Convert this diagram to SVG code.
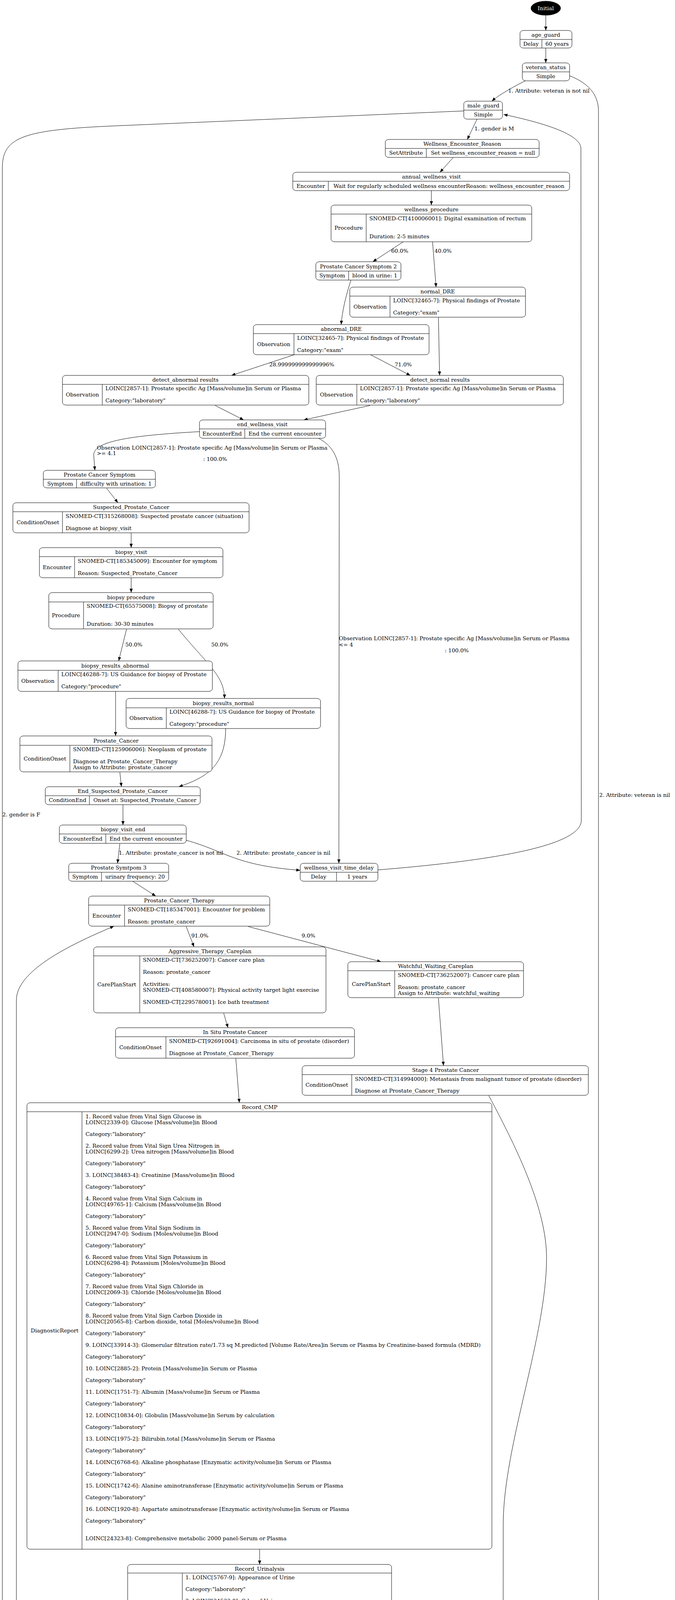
<svg xmlns="http://www.w3.org/2000/svg" width="1729" height="6685" viewBox="0 0 1729 6685">
<style>
.t{font-family:"DejaVu Serif","Liberation Serif",serif;font-size:13.8px;fill:#000}
.m{text-anchor:middle}
.w{fill:#fff}
.n{fill:#fff;stroke:#000;stroke-width:1}
.s{fill:none;stroke:#000;stroke-width:1}
.e{fill:none;stroke:#000;stroke-width:1;marker-end:url(#arr)}
</style>
<defs>
<marker id="arr" markerUnits="userSpaceOnUse" markerWidth="10" markerHeight="8" refX="10" refY="4" orient="auto"><path d="M0,0 L10,4 L0,8 z" fill="#000"/></marker>
</defs>
<rect x="0" y="0" width="1729" height="6685" fill="#fff"/>

<g id="connectors">
<path class="e" d="M1398,40 L1398,78"/>
<path class="e" d="M1398,123 L1398,161"/>
<path class="e" d="M1345,207 C1310,225 1275,245 1260,259"/>
<path class="e" d="M1459,194 C1505,212 1533,240 1533,285 L1533,6555 C1533,6615 1000,6648 623,6660"/>
<path class="e" d="M1222,305 L1197,357"/>
<path class="e" d="M1188,284 L300,322 C60,332 6,350 6,430 L6,6555 C6,6620 300,6645 513,6659"/>
<path class="e" d="M1161,403 L1127,441"/>
<path class="e" d="M1105,488 L1105,525"/>
<path class="e" d="M1033,619 L955,670"/>
<path class="e" d="M1108,619 L1117,735"/>
<path class="e" d="M899,717 C885,760 876,800 874,831"/>
<path class="e" d="M754,908 L593,961"/>
<path class="e" d="M949,908 L1051,961"/>
<path class="e" d="M1123,812 L1126,961"/>
<path class="e" d="M551,1038 L624,1075"/>
<path class="e" d="M948,1038 L778,1075"/>
<path class="e" d="M511,1105 C330,1115 240,1130 240,1165 L243,1204"/>
<path class="e" d="M816,1122 C850,1140 869,1170 869,1220 L868,2210"/>
<path class="e" d="M273,1250 L302,1287"/>
<path class="e" d="M336,1364 L336,1402"/>
<path class="e" d="M336,1479 L336,1517"/>
<path class="e" d="M324,1611 L304,1692"/>
<path class="e" d="M457,1611 C530,1700 575,1730 575,1788"/>
<path class="e" d="M296,1770 L296,1884"/>
<path class="e" d="M578,1865 C578,1960 530,1990 458,2014"/>
<path class="e" d="M307,1977 L311,2014"/>
<path class="e" d="M315,2060 L315,2112"/>
<path class="e" d="M307,2160 L301,2210"/>
<path class="e" d="M477,2151 C580,2180 600,2215 769,2228"/>
<path class="e" d="M968,2227 C1300,2200 1489,2160 1489,2100 L1488,380 C1488,340 1370,310 1290,293"/>
<path class="e" d="M340,2256 L399,2294"/>
<path class="e" d="M477,2372 L497,2424"/>
<path class="e" d="M636,2372 L976,2462"/>
<path class="e" d="M345,6557 C180,6505 42,6470 42,6410 L42,2560 C42,2480 200,2410 292,2371"/>
<path class="e" d="M573,2594 L584,2631"/>
<path class="e" d="M1123,2555 L1136,2728"/>
<path class="e" d="M604,2709 L613,2823"/>
<path class="e" d="M1252,2805 C1330,2950 1400,3100 1400,3220 C1400,3420 1290,3700 1289,3900 L1288,6340 C1288,6385 1100,6405 882,6418"/>
<path class="e" d="M665,3966 L665,4005"/>
<path class="e" d="M665,5102 L665,5140"/>
<path class="e" d="M665,5877 L665,5930"/>
<path class="e" d="M665,6007 L665,6045"/>
<path class="e" d="M634,6123 L595,6174"/>
<path class="e" d="M717,6123 C760,6200 770,6260 737,6320"/>
<path class="e" d="M629,6283 L681,6320"/>
<path class="e" d="M717,6367 L717,6405"/>
<path class="e" d="M554,6444 C470,6460 440,6500 439,6546"/>
<path class="e" d="M717,6450 L717,6547"/>
<path class="e" d="M469,6594 L543,6647"/>
<path class="e" d="M679,6594 L592,6647"/>
<g id="edge-labels">
<text class="t m" x="1406" y="237">1. Attribute: veteran is not nil</text>
<text class="t" x="1535" y="2040">2. Attribute: veteran is nil</text>
<text class="t m" x="1266" y="334">1. gender is M</text>
<text class="t" x="6" y="2090">2. gender is F</text>
<text class="t m" x="1024" y="647">60.0%</text>
<text class="t m" x="1135" y="647">40.0%</text>
<text class="t m" x="773" y="938">28.999999999999996%</text>
<text class="t m" x="1033" y="938">71.0%</text>
<text class="t" x="248" y="1151">Observation LOINC[2857-1]: Prostate specific Ag [Mass/volume]in Serum or Plasma</text>
<text class="t" x="248" y="1165">&gt;= 4.1</text>
<text class="t m" x="551" y="1180">: 100.0%</text>
<text class="t" x="868" y="1639">Observation LOINC[2857-1]: Prostate specific Ag [Mass/volume]in Serum or Plasma</text>
<text class="t" x="868" y="1655">&lt;= 4</text>
<text class="t m" x="1170" y="1670">: 100.0%</text>
<text class="t m" x="343" y="1655">50.0%</text>
<text class="t m" x="563" y="1655">50.0%</text>
<text class="t m" x="438" y="2188">1. Attribute: prostate_cancer is not nil</text>
<text class="t m" x="726" y="2188">2. Attribute: prostate_cancer is nil</text>
<text class="t m" x="512" y="2400">91.0%</text>
<text class="t m" x="790" y="2400">9.0%</text>
<text class="t" x="43" y="5908">1. state'Prostatectomy'has been processed within 120 days</text>
<text class="t m" x="641" y="6152">2. else</text>
<text class="t m" x="918" y="6232">1. state'Prostatectomy'has been processed</text>
<text class="t m" x="589" y="6495">Attribute: watchful_waiting is nil</text>
<text class="t m" x="594" y="6510">: 95.0%</text>
<text class="t m" x="834" y="6480">Attribute: watchful_waiting is nil</text>
<text class="t m" x="853" y="6495">: 5.0%,</text>
<text class="t m" x="847" y="6509">Attribute: watchful_waiting is not nil</text>
<text class="t m" x="852" y="6525">: 100.0%</text>
<text class="t m" x="536" y="6623">2. else</text>
</g>
</g>

<g id="initial"><ellipse cx="1398" cy="21" rx="38" ry="18" fill="#000" stroke="#000"/><text class="t m w" x="1398" y="26">Initial</text></g>

<g id="age_guard"><rect class="n" x="1332" y="78" width="133" height="45" rx="9" ry="7"/><path class="s" d="M1332,101H1465M1388,101V123"/>
<text class="t m" x="1398" y="94">age_guard</text>
<text class="t m" x="1360" y="116.5">Delay</text>
<text class="t m" x="1427" y="116.5">60 years</text></g>

<g id="veteran_status"><rect class="n" x="1338" y="161" width="121" height="46" rx="9" ry="7"/><path class="s" d="M1338,184H1459"/>
<text class="t m" x="1398" y="177">veteran_status</text>
<text class="t m" x="1398" y="200">Simple</text></g>

<g id="male_guard"><rect class="n" x="1188" y="259" width="99" height="46" rx="9" ry="7"/><path class="s" d="M1188,282H1287"/>
<text class="t m" x="1238" y="275">male_guard</text>
<text class="t m" x="1238" y="298">Simple</text></g>

<g id="wellness_encounter_reason"><rect class="n" x="987" y="357" width="394" height="46" rx="9" ry="7"/><path class="s" d="M987,380H1381M1092,380V403"/>
<text class="t m" x="1184" y="373">Wellness_Encounter_Reason</text>
<text class="t m" x="1040" y="396">SetAttribute</text>
<text class="t m" x="1237" y="396">Set wellness_encounter_reason = null</text></g>

<g id="annual_wellness_visit"><rect class="n" x="750" y="441" width="709" height="47" rx="9" ry="7"/><path class="s" d="M750,464H1459M841,464V488"/>
<text class="t m" x="1105" y="457">annual_wellness_visit</text>
<text class="t m" x="796" y="480.5">Encounter</text>
<text class="t m" x="1150" y="480.5">Wait for regularly scheduled wellness encounterReason: wellness_encounter_reason</text></g>

<g id="wellness_procedure"><rect class="n" x="848" y="525" width="514" height="94" rx="9" ry="7"/><path class="s" d="M848,548H1362M938,548V619"/>
<text class="t m" x="1105" y="541">wellness_procedure</text>
<text class="t m" x="893" y="588">Procedure</text>
<text class="t" x="946" y="563.5">SNOMED-CT[410006001]: Digital examination of rectum</text>
<text class="t" x="946" y="609.5">Duration: 2-5 minutes</text></g>

<g id="prostate_cancer_symptom_2"><rect class="n" x="809" y="670" width="218" height="47" rx="9" ry="7"/><path class="s" d="M809,694H1027M893,694V717"/>
<text class="t m" x="918" y="686.5">Prostate Cancer Symptom 2</text>
<text class="t m" x="851" y="710">Symptom</text>
<text class="t m" x="960" y="710">blood in urine: 1</text></g>

<g id="normal_DRE"><rect class="n" x="896" y="735" width="450" height="77" rx="9" ry="7"/><path class="s" d="M896,758H1346M999,758V812"/>
<text class="t m" x="1121" y="751">normal_DRE</text>
<text class="t m" x="948" y="789.5">Observation</text>
<text class="t" x="1007" y="773.5">LOINC[32465-7]: Physical findings of Prostate</text>
<text class="t" x="1007" y="804.5">Category:"exam"</text></g>

<g id="abnormal_DRE"><rect class="n" x="649" y="831" width="450" height="77" rx="9" ry="7"/><path class="s" d="M649,854H1099M753,854V908"/>
<text class="t m" x="874" y="847">abnormal_DRE</text>
<text class="t m" x="701" y="885.5">Observation</text>
<text class="t" x="761" y="869.5">LOINC[32465-7]: Physical findings of Prostate</text>
<text class="t" x="761" y="900.5">Category:"exam"</text></g>

<g id="detect_abnormal_results"><rect class="n" x="160" y="961" width="631" height="76" rx="9" ry="7"/><path class="s" d="M160,984H791M262,984V1037"/>
<text class="t m" x="475" y="977">detect_abnormal results</text>
<text class="t m" x="211" y="1015">Observation</text>
<text class="t" x="270" y="998.5">LOINC[2857-1]: Prostate specific Ag [Mass/volume]in Serum or Plasma</text>
<text class="t" x="270" y="1029.5">Category:"laboratory"</text></g>

<g id="detect_normal_results"><rect class="n" x="810" y="961" width="633" height="76" rx="9" ry="7"/><path class="s" d="M810,984H1443M914,984V1037"/>
<text class="t m" x="1127" y="977">detect_normal results</text>
<text class="t m" x="862" y="1015">Observation</text>
<text class="t" x="922" y="998.5">LOINC[2857-1]: Prostate specific Ag [Mass/volume]in Serum or Plasma</text>
<text class="t" x="922" y="1029.5">Category:"laboratory"</text></g>

<g id="end_wellness_visit"><rect class="n" x="511" y="1075" width="323" height="47" rx="9" ry="7"/><path class="s" d="M511,1098H834M627,1098V1122"/>
<text class="t m" x="672" y="1091">end_wellness_visit</text>
<text class="t m" x="569" y="1114.5">EncounterEnd</text>
<text class="t m" x="730" y="1114.5">End the current encounter</text></g>

<g id="prostate_cancer_symptom"><rect class="n" x="111" y="1204" width="287" height="45" rx="9" ry="7"/><path class="s" d="M111,1227H398M196,1227V1249"/>
<text class="t m" x="255" y="1220">Prostate Cancer Symptom</text>
<text class="t m" x="154" y="1242.5">Symptom</text>
<text class="t m" x="297" y="1242.5">difficulty with urination: 1</text></g>

<g id="suspected_prostate_cancer"><rect class="n" x="33" y="1287" width="605" height="77" rx="9" ry="7"/><path class="s" d="M33,1310H638M160,1310V1364"/>
<text class="t m" x="336" y="1303">Suspected_Prostate_Cancer</text>
<text class="t m" x="97" y="1341.5">ConditionOnset</text>
<text class="t" x="168" y="1325.5">SNOMED-CT[315268008]: Suspected prostate cancer (situation)</text>
<text class="t" x="168" y="1356.5">Diagnose at biopsy_visit</text></g>

<g id="biopsy_visit"><rect class="n" x="101" y="1402" width="470" height="77" rx="9" ry="7"/><path class="s" d="M101,1425H571M191,1425V1479"/>
<text class="t m" x="336" y="1418">biopsy_visit</text>
<text class="t m" x="146" y="1456.5">Encounter</text>
<text class="t" x="199" y="1440.5">SNOMED-CT[185345009]: Encounter for symptom</text>
<text class="t" x="199" y="1471.5">Reason: Suspected_Prostate_Cancer</text></g>

<g id="biopsy_procedure"><rect class="n" x="125" y="1517" width="421" height="93" rx="9" ry="7"/><path class="s" d="M125,1541H546M214,1541V1610"/>
<text class="t m" x="335" y="1533.5">biopsy procedure</text>
<text class="t m" x="169" y="1580">Procedure</text>
<text class="t" x="222" y="1555.5">SNOMED-CT[65575008]: Biopsy of prostate</text>
<text class="t" x="222" y="1601.5">Duration: 30-30 minutes</text></g>

<g id="biopsy_results_abnormal"><rect class="n" x="46" y="1692" width="498" height="78" rx="9" ry="7"/><path class="s" d="M46,1716H544M149,1716V1770"/>
<text class="t m" x="295" y="1708.5">biopsy_results_abnormal</text>
<text class="t m" x="97" y="1747.5">Observation</text>
<text class="t" x="157" y="1730.5">LOINC[46288-7]: US Guidance for biopsy of Prostate</text>
<text class="t" x="157" y="1761.5">Category:"procedure"</text></g>

<g id="biopsy_results_normal"><rect class="n" x="323" y="1788" width="498" height="77" rx="9" ry="7"/><path class="s" d="M323,1812H821M426,1812V1865"/>
<text class="t m" x="572" y="1804.5">biopsy_results_normal</text>
<text class="t m" x="374" y="1843">Observation</text>
<text class="t" x="434" y="1826.5">LOINC[46288-7]: US Guidance for biopsy of Prostate</text>
<text class="t" x="434" y="1857.5">Category:"procedure"</text></g>

<g id="prostate_cancer"><rect class="n" x="51" y="1884" width="492" height="92" rx="9" ry="7"/><path class="s" d="M51,1908H543M179,1908V1976"/>
<text class="t m" x="297" y="1900.5">Prostate_Cancer</text>
<text class="t m" x="115" y="1946.5">ConditionOnset</text>
<text class="t" x="187" y="1922.5">SNOMED-CT[125906006]: Neoplasm of prostate</text>
<text class="t" x="187" y="1953.5">Diagnose at Prostate_Cancer_Therapy</text>
<text class="t" x="187" y="1968.5">Assign to Attribute: prostate_cancer</text></g>

<g id="end_suspected_prostate_cancer"><rect class="n" x="116" y="2014" width="397" height="46" rx="9" ry="7"/><path class="s" d="M116,2037H513M229,2037V2060"/>
<text class="t m" x="314" y="2030">End_Suspected_Prostate_Cancer</text>
<text class="t m" x="173" y="2053">ConditionEnd</text>
<text class="t m" x="371" y="2053">Onset at: Suspected_Prostate_Cancer</text></g>

<g id="biopsy_visit_end"><rect class="n" x="152" y="2112" width="325" height="47" rx="9" ry="7"/><path class="s" d="M152,2135H477M271,2135V2159"/>
<text class="t m" x="315" y="2128">biopsy_visit_end</text>
<text class="t m" x="212" y="2151.5">EncounterEnd</text>
<text class="t m" x="374" y="2151.5">End the current encounter</text></g>

<g id="prostate_symptom_3"><rect class="n" x="176" y="2210" width="256" height="46" rx="9" ry="7"/><path class="s" d="M176,2233H432M260,2233V2256"/>
<text class="t m" x="304" y="2226">Prostate Symtpom 3</text>
<text class="t m" x="218" y="2249">Symptom</text>
<text class="t m" x="346" y="2249">urinary frequency: 20</text></g>

<g id="wellness_visit_time_delay"><rect class="n" x="769" y="2210" width="199" height="46" rx="9" ry="7"/><path class="s" d="M769,2233H968M862,2233V2256"/>
<text class="t m" x="868" y="2226">wellness_visit_time_delay</text>
<text class="t m" x="816" y="2249">Delay</text>
<text class="t m" x="915" y="2249">1 years</text></g>

<g id="prostate_cancer_therapy"><rect class="n" x="227" y="2294" width="464" height="77" rx="9" ry="7"/><path class="s" d="M227,2317H691M319,2317V2371"/>
<text class="t m" x="459" y="2310">Prostate_Cancer_Therapy</text>
<text class="t m" x="273" y="2348.5">Encounter</text>
<text class="t" x="327" y="2332.5">SNOMED-CT[185347001]: Encounter for problem</text>
<text class="t" x="327" y="2363.5">Reason: prostate_cancer</text></g>

<g id="aggressive_therapy_careplan"><rect class="n" x="240" y="2424" width="595" height="169" rx="9" ry="7"/><path class="s" d="M240,2447H835M358,2447V2593"/>
<text class="t m" x="538" y="2440">Aggressive_Therapy_Careplan</text>
<text class="t m" x="299" y="2524.5">CarePlanStart</text>
<text class="t" x="366" y="2461.5">SNOMED-CT[736252007]: Cancer care plan</text>
<text class="t" x="366" y="2492.5">Reason: prostate_cancer</text>
<text class="t" x="366" y="2523.5">Activities:</text>
<text class="t" x="366" y="2538.5">SNOMED-CT[408580007]: Physical activity target light exercise</text>
<text class="t" x="366" y="2569.5">SNOMED-CT[229578001]: Ice bath treatment</text></g>

<g id="watchful_waiting_careplan"><rect class="n" x="891" y="2462" width="450" height="92" rx="9" ry="7"/><path class="s" d="M891,2485H1341M1011,2485V2554"/>
<text class="t m" x="1116" y="2478">Watchful_Waiting_Careplan</text>
<text class="t m" x="951" y="2524">CarePlanStart</text>
<text class="t" x="1019" y="2500.5">SNOMED-CT[736252007]: Cancer care plan</text>
<text class="t" x="1019" y="2531.5">Reason: prostate_cancer</text>
<text class="t" x="1019" y="2546.5">Assign to Attribute: watchful_waiting</text></g>

<g id="in_situ_prostate_cancer"><rect class="n" x="296" y="2631" width="612" height="78" rx="9" ry="7"/><path class="s" d="M296,2654H908M425,2654V2709"/>
<text class="t m" x="602" y="2647">In Situ Prostate Cancer</text>
<text class="t m" x="360" y="2686">ConditionOnset</text>
<text class="t" x="433" y="2669.5">SNOMED-CT[92691004]: Carcinoma in situ of prostate (disorder)</text>
<text class="t" x="433" y="2700.5">Diagnose at Prostate_Cancer_Therapy</text></g>

<g id="stage_4_prostate_cancer"><rect class="n" x="774" y="2728" width="733" height="76" rx="9" ry="7"/><path class="s" d="M774,2751H1507M901,2751V2804"/>
<text class="t m" x="1141" y="2744">Stage 4 Prostate Cancer</text>
<text class="t m" x="837" y="2782">ConditionOnset</text>
<text class="t" x="909" y="2766.5">SNOMED-CT[314994000]: Metastasis from malignant tumor of prostate (disorder)</text>
<text class="t" x="909" y="2796.5">Diagnose at Prostate_Cancer_Therapy</text></g>

<g id="record_cmp"><rect class="n" x="69" y="2823" width="1191" height="1143" rx="9" ry="7"/><path class="s" d="M69,2846H1260M210,2846V3966"/>
<text class="t m" x="665" y="2839">Record_CMP</text>
<text class="t m" x="140" y="3410.5">DiagnosticReport</text>
<text class="t">
<tspan x="219" y="2862.5">1. Record value from Vital Sign Glucose in</tspan>
<tspan x="219" y="2877.5">LOINC[2339-0]: Glucose [Mass/volume]in Blood</tspan>
<tspan x="219" y="2907.5">Category:"laboratory"</tspan>
<tspan x="219" y="2937.5">2. Record value from Vital Sign Urea Nitrogen in</tspan>
<tspan x="219" y="2952.5">LOINC[6299-2]: Urea nitrogen [Mass/volume]in Blood</tspan>
<tspan x="219" y="2982.5">Category:"laboratory"</tspan>
<tspan x="219" y="3012.5">3. LOINC[38483-4]: Creatinine [Mass/volume]in Blood</tspan>
<tspan x="219" y="3042.5">Category:"laboratory"</tspan>
<tspan x="219" y="3072.5">4. Record value from Vital Sign Calcium in</tspan>
<tspan x="219" y="3087.5">LOINC[49765-1]: Calcium [Mass/volume]in Blood</tspan>
<tspan x="219" y="3117.5">Category:"laboratory"</tspan>
<tspan x="219" y="3147.5">5. Record value from Vital Sign Sodium in</tspan>
<tspan x="219" y="3162.5">LOINC[2947-0]: Sodium [Moles/volume]in Blood</tspan>
<tspan x="219" y="3192.5">Category:"laboratory"</tspan>
<tspan x="219" y="3222.5">6. Record value from Vital Sign Potassium in</tspan>
<tspan x="219" y="3237.5">LOINC[6298-4]: Potassium [Moles/volume]in Blood</tspan>
<tspan x="219" y="3267.5">Category:"laboratory"</tspan>
<tspan x="219" y="3297.5">7. Record value from Vital Sign Chloride in</tspan>
<tspan x="219" y="3312.5">LOINC[2069-3]: Chloride [Moles/volume]in Blood</tspan>
<tspan x="219" y="3342.5">Category:"laboratory"</tspan>
<tspan x="219" y="3372.5">8. Record value from Vital Sign Carbon Dioxide in</tspan>
<tspan x="219" y="3387.5">LOINC[20565-8]: Carbon dioxide, total [Moles/volume]in Blood</tspan>
<tspan x="219" y="3417.5">Category:"laboratory"</tspan>
<tspan x="219" y="3447.5">9. LOINC[33914-3]: Glomerular filtration rate/1.73 sq M.predicted [Volume Rate/Area]in Serum or Plasma by Creatinine-based formula (MDRD)</tspan>
<tspan x="219" y="3477.5">Category:"laboratory"</tspan>
<tspan x="219" y="3507.5">10. LOINC[2885-2]: Protein [Mass/volume]in Serum or Plasma</tspan>
<tspan x="219" y="3537.5">Category:"laboratory"</tspan>
<tspan x="219" y="3567.5">11. LOINC[1751-7]: Albumin [Mass/volume]in Serum or Plasma</tspan>
<tspan x="219" y="3597.5">Category:"laboratory"</tspan>
<tspan x="219" y="3627.5">12. LOINC[10834-0]: Globulin [Mass/volume]in Serum by calculation</tspan>
<tspan x="219" y="3657.5">Category:"laboratory"</tspan>
<tspan x="219" y="3687.5">13. LOINC[1975-2]: Bilirubin.total [Mass/volume]in Serum or Plasma</tspan>
<tspan x="219" y="3717.5">Category:"laboratory"</tspan>
<tspan x="219" y="3747.5">14. LOINC[6768-6]: Alkaline phosphatase [Enzymatic activity/volume]in Serum or Plasma</tspan>
<tspan x="219" y="3777.5">Category:"laboratory"</tspan>
<tspan x="219" y="3807.5">15. LOINC[1742-6]: Alanine aminotransferase [Enzymatic activity/volume]in Serum or Plasma</tspan>
<tspan x="219" y="3837.5">Category:"laboratory"</tspan>
<tspan x="219" y="3867.5">16. LOINC[1920-8]: Aspartate aminotransferase [Enzymatic activity/volume]in Serum or Plasma</tspan>
<tspan x="219" y="3897.5">Category:"laboratory"</tspan>
<tspan x="219" y="3942.5">LOINC[24323-8]: Comprehensive metabolic 2000 panel-Serum or Plasma</tspan>
</text></g>

<g id="record_urinalysis"><rect class="n" x="327" y="4005" width="676" height="1097" rx="9" ry="7"/><path class="s" d="M327,4027H1003M467,4027V5102"/>
<text class="t m" x="665" y="4020.5">Record_Urinalysis</text>
<text class="t m" x="397" y="4569">DiagnosticReport</text>
<text class="t">
<tspan x="475" y="4042.5">1. LOINC[5767-9]: Appearance of Urine</tspan>
<tspan x="475" y="4072.5">Category:"laboratory"</tspan>
<tspan x="475" y="4102.5">2. LOINC[34533-0]: Odor of Urine</tspan>
<tspan x="475" y="4132.5">Category:"laboratory"</tspan>
<tspan x="475" y="4162.5">3. LOINC[32167-9]: Clarity of Urine</tspan>
<tspan x="475" y="4192.5">Category:"laboratory"</tspan>
<tspan x="475" y="4222.5">4. LOINC[5778-6]: Color of Urine</tspan>
<tspan x="475" y="4252.5">Category:"laboratory"</tspan>
<tspan x="475" y="4282.5">5. LOINC[5792-7]: Glucose [Mass/volume]in Urine by Test strip</tspan>
<tspan x="475" y="4312.5">Category:"laboratory"</tspan>
<tspan x="475" y="4342.5">6. LOINC[25428-4]: Glucose [Presence]in Urine by Test strip</tspan>
<tspan x="475" y="4372.5">Category:"laboratory"</tspan>
<tspan x="475" y="4402.5">7. LOINC[20505-4]: Bilirubin.total [Mass/volume]in Urine by Test strip</tspan>
<tspan x="475" y="4432.5">Category:"laboratory"</tspan>
<tspan x="475" y="4462.5">8. LOINC[5770-3]: Bilirubin.total [Presence]in Urine by Test strip</tspan>
<tspan x="475" y="4492.5">Category:"laboratory"</tspan>
<tspan x="475" y="4522.5">9. LOINC[5797-6]: Ketones [Mass/volume]in Urine by Test strip</tspan>
<tspan x="475" y="4552.5">Category:"laboratory"</tspan>
<tspan x="475" y="4582.5">10. LOINC[2514-8]: Ketones [Presence]in Urine by Test strip</tspan>
<tspan x="475" y="4612.5">Category:"laboratory"</tspan>
<tspan x="475" y="4642.5">11. LOINC[5811-5]: Specific gravity of Urine by Test strip</tspan>
<tspan x="475" y="4672.5">Category:"laboratory"</tspan>
<tspan x="475" y="4702.5">12. LOINC[5803-2]: pH of Urine by Test strip</tspan>
<tspan x="475" y="4732.5">Category:"laboratory"</tspan>
<tspan x="475" y="4762.5">13. LOINC[5804-0]: Protein [Mass/volume]in Urine by Test strip</tspan>
<tspan x="475" y="4792.5">Category:"laboratory"</tspan>
<tspan x="475" y="4822.5">14. LOINC[20454-5]: Protein [Presence]in Urine by Test strip</tspan>
<tspan x="475" y="4852.5">Category:"laboratory"</tspan>
<tspan x="475" y="4882.5">15. LOINC[5802-4]: Nitrite [Presence]in Urine by Test strip</tspan>
<tspan x="475" y="4912.5">Category:"laboratory"</tspan>
<tspan x="475" y="4942.5">16. LOINC[5794-3]: Hemoglobin [Presence]in Urine by Test strip</tspan>
<tspan x="475" y="4972.5">Category:"laboratory"</tspan>
<tspan x="475" y="5002.5">17. LOINC[5799-2]: Leukocyte esterase [Presence]in Urine by Test strip</tspan>
<tspan x="475" y="5032.5">Category:"laboratory"</tspan>
<tspan x="475" y="5077.5">LOINC[24357-6]: Urinalysis macro (dipstick) panel-Urine</tspan>
</text></g>

<g id="record_cbc_panel"><rect class="n" x="251" y="5140" width="827" height="737" rx="9" ry="7"/><path class="s" d="M251,5163H1078M390,5163V5877"/>
<text class="t m" x="665" y="5156">Record_CBC_Panel</text>
<text class="t m" x="321" y="5524.5">DiagnosticReport</text>
<text class="t">
<tspan x="399" y="5177.5">1. LOINC[6690-2]: Leukocytes [#/volume]in Blood by Automated count</tspan>
<tspan x="399" y="5207.5">Category:"laboratory"</tspan>
<tspan x="399" y="5237.5">2. LOINC[789-8]: Erythrocytes [#/volume]in Blood by Automated count</tspan>
<tspan x="399" y="5267.5">Category:"laboratory"</tspan>
<tspan x="399" y="5297.5">3. LOINC[718-7]: Hemoglobin [Mass/volume]in Blood</tspan>
<tspan x="399" y="5327.5">Category:"laboratory"</tspan>
<tspan x="399" y="5357.5">4. LOINC[4544-3]: Hematocrit [Volume Fraction]of Blood by Automated count</tspan>
<tspan x="399" y="5387.5">Category:"laboratory"</tspan>
<tspan x="399" y="5417.5">5. LOINC[787-2]: MCV [Entitic volume]by Automated count</tspan>
<tspan x="399" y="5447.5">Category:"laboratory"</tspan>
<tspan x="399" y="5477.5">6. LOINC[785-6]: MCH [Entitic mass]by Automated count</tspan>
<tspan x="399" y="5507.5">Category:"laboratory"</tspan>
<tspan x="399" y="5537.5">7. LOINC[786-4]: MCHC [Mass/volume]by Automated count</tspan>
<tspan x="399" y="5567.5">Category:"laboratory"</tspan>
<tspan x="399" y="5597.5">8. LOINC[21000-5]: Erythrocyte distribution width [Entitic volume]by Automated count</tspan>
<tspan x="399" y="5627.5">Category:"laboratory"</tspan>
<tspan x="399" y="5657.5">9. LOINC[777-3]: Platelets [#/volume]in Blood by Automated count</tspan>
<tspan x="399" y="5687.5">Category:"laboratory"</tspan>
<tspan x="399" y="5717.5">10. LOINC[32207-3]: Platelet distribution width [Entitic volume]in Blood by Automated count</tspan>
<tspan x="399" y="5747.5">Category:"laboratory"</tspan>
<tspan x="399" y="5777.5">11. LOINC[32623-1]: Platelet mean volume [Entitic volume]in Blood by Automated count</tspan>
<tspan x="399" y="5807.5">Category:"laboratory"</tspan>
<tspan x="399" y="5852.5">LOINC[58410-2]: CBC panel-Blood by Automated count</tspan>
</text></g>

<g id="chemotherapy_hormone_order"><rect class="n" x="384" y="5930" width="562" height="77" rx="9" ry="7"/><path class="s" d="M384,5953H946M522,5953V6007"/>
<text class="t m" x="665" y="5946">Chemotherapy_Hormone Order</text>
<text class="t m" x="453" y="5984.5">MedicationOrder</text>
<text class="t" x="530" y="5968.5">RxNorm[1860480]: 1 ML DOCEtaxel 20 MG/ML Injection</text>
<text class="t" x="530" y="5999.5">Reason: Prostate_Cancer</text></g>

<g id="chemotherapy_hormone_order2"><rect class="n" x="320" y="6045" width="690" height="77" rx="9" ry="7"/><path class="s" d="M320,6068H1010M457,6068V6122"/>
<text class="t m" x="665" y="6061">Chemotherapy_Hormone Order2</text>
<text class="t m" x="388" y="6099.5">MedicationOrder</text>
<text class="t" x="465" y="6083.5">RxNorm[752899]: 0.25 ML Leuprolide Acetate 30 MG/ML Prefilled Syringe</text>
<text class="t" x="465" y="6114.5">Reason: Prostate_Cancer</text></g>

<g id="prostatectomy"><rect class="n" x="351" y="6174" width="394" height="108" rx="9" ry="7"/><path class="s" d="M351,6197H745M440,6197V6282"/>
<text class="t m" x="548" y="6190">Prostatectomy</text>
<text class="t m" x="395" y="6244">Procedure</text>
<text class="t" x="448" y="6213.5">SNOMED-CT[90470006]: Prostatectomy</text>
<text class="t" x="448" y="6243.5">Reason: prostate_cancer</text>
<text class="t" x="448" y="6274.5">Duration: 4-6 hours</text></g>

<g id="end_chemo_med"><rect class="n" x="651" y="6320" width="132" height="47" rx="9" ry="7"/><path class="s" d="M651,6344H783"/>
<text class="t m" x="717" y="6336.5">end_chemo_med</text>
<text class="t m" x="717" y="6360">Simple</text></g>

<g id="end_cancer_therapy_encounter"><rect class="n" x="554" y="6405" width="325" height="45" rx="9" ry="7"/><path class="s" d="M554,6427H879M673,6427V6450"/>
<text class="t m" x="716" y="6420.5">end_cancer_therapy encounter</text>
<text class="t m" x="613" y="6443">EncounterEnd</text>
<text class="t m" x="776" y="6443">End the current encounter</text></g>

<g id="watchful_waiting_guard"><rect class="n" x="345" y="6547" width="184" height="47" rx="9" ry="7"/><path class="s" d="M345,6571H529M423,6571V6594"/>
<text class="t m" x="437" y="6563.5">watchful_waiting_guard</text>
<text class="t m" x="384" y="6587">Delay</text>
<text class="t m" x="476" y="6587">3 months</text></g>

<g id="eventual_death"><rect class="n" x="548" y="6547" width="336" height="47" rx="9" ry="7"/><path class="s" d="M548,6571H884M606,6571V6594"/>
<text class="t m" x="716" y="6563.5">eventual_death</text>
<text class="t m" x="577" y="6587">Death</text>
<text class="t m" x="745" y="6587">1-5 yearsOnset at: Prostate_Cancer</text></g>

<g id="terminal"><ellipse cx="565" cy="6663" rx="52" ry="18" fill="#000" stroke="#000"/><text class="t m w" x="565" y="6668">Terminal</text></g>
</svg>
